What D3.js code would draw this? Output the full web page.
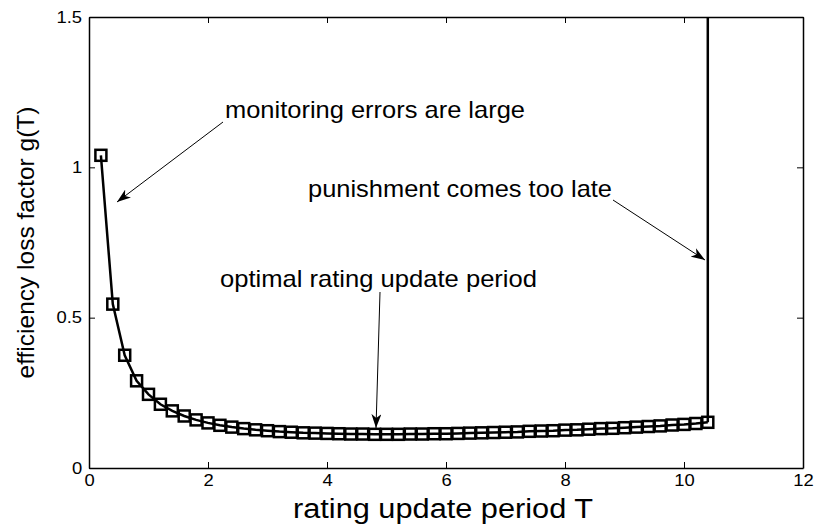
<!DOCTYPE html>
<html>
<head>
<meta charset="utf-8">
<script src="https://cdn.jsdelivr.net/npm/d3@7"></script>
<style>
  body { margin: 0; background: #fff; }
  svg { font-family: Arial, "Liberation Sans", sans-serif; }
</style>
</head>
<body>
<svg id="chart" width="817" height="528"></svg>
<script>
// values
var periods = [0.2,0.4,0.6,0.8,1.0,1.2,1.4,1.6,1.8,2.0,2.2,2.4,2.6,2.8,3.0,3.2,3.4,3.6,3.8,4.0,
  4.2,4.4,4.6,4.8,5.0,5.2,5.4,5.6,5.8,6.0,6.2,6.4,6.6,6.8,7.0,7.2,7.4,7.6,7.8,8.0,
  8.2,8.4,8.6,8.8,9.0,9.2,9.4,9.6,9.8,10.0,10.2,10.4];
var lossFactor = [1.04,0.545,0.375,0.29,0.245,0.212,0.19,0.173,0.16,0.15,0.142,0.136,0.131,0.127,0.124,0.121,0.119,0.117,0.116,0.115,
  0.114,0.113,0.113,0.112,0.112,0.112,0.113,0.113,0.114,0.114,0.115,0.116,0.117,0.118,0.119,0.12,0.122,0.123,0.124,0.126,
  0.127,0.129,0.131,0.132,0.134,0.136,0.138,0.14,0.143,0.145,0.148,0.152];
// the curve blows up right after the last point
var blowUp = [[10.4, 0.152], [10.4, 5]];

var xTicks = [0,2,4,6,8,10,12];
var yTicks = [0,0.5,1,1.5];

// text position (baseline start) and width, arrow tail / head in pixels
var notes = [
  {text: "monitoring errors are large", tx: 225, ty: 118, len: 300, from: [223,122], to: [117,202]},
  {text: "punishment comes too late", tx: 308, ty: 197, len: 304, from: [613,200], to: [705,260]},
  {text: "optimal rating update period", tx: 220, ty: 287, len: 317, from: [380,292], to: [376,428]}
];

var svg = d3.select("#chart");
var margin = {left: 89, right: 14, top: 17, bottom: 60};
var W = 817 - margin.left - margin.right, H = 528 - margin.top - margin.bottom;

var x = d3.scaleLinear().domain([0,12]).range([0,W]);
var y = d3.scaleLinear().domain([0,1.5]).range([H,0]);

var g = svg.append("g").attr("transform", "translate("+margin.left+","+margin.top+")");

svg.append("defs").append("clipPath").attr("id","clip")
  .append("rect").attr("width", W).attr("height", H);

// axes, matlab style: ticks inward on all four sides
function styleAxis(sel) {
  sel.select(".domain").attr("stroke","#000").attr("stroke-width",1.5);
  sel.selectAll(".tick line").attr("stroke","#000");
  sel.selectAll("text").attr("fill","#000").style("font-size","16px")
    .attr("transform","scale(1.15,1)");
}
g.append("g").attr("transform","translate(0,"+H+")")
  .call(d3.axisBottom(x).tickValues(xTicks).tickSize(-6).tickSizeOuter(0).tickPadding(7).tickFormat(d3.format("d")))
  .call(styleAxis);
g.append("g")
  .call(d3.axisTop(x).tickValues(xTicks).tickSize(-6).tickSizeOuter(0).tickFormat(""))
  .call(styleAxis);
g.append("g")
  .call(d3.axisLeft(y).tickValues(yTicks).tickSize(-6).tickSizeOuter(0).tickPadding(6).tickFormat(function(d){ return d; }))
  .call(styleAxis);
g.append("g").attr("transform","translate("+W+",0)")
  .call(d3.axisRight(y).tickValues(yTicks).tickSize(-6).tickSizeOuter(0).tickFormat(""))
  .call(styleAxis);

var pts = periods.map(function(t,i){ return [t, lossFactor[i]]; });
var line = d3.line().x(function(d){ return x(d[0]); }).y(function(d){ return y(d[1]); });

var plot = g.append("g").attr("clip-path","url(#clip)");
plot.append("path").datum(pts).attr("d", line)
  .attr("fill","none").attr("stroke","#000").attr("stroke-width",2.5);
plot.append("path").datum(blowUp).attr("d", line)
  .attr("fill","none").attr("stroke","#000").attr("stroke-width",2.5);

var s = 11;
g.selectAll("rect.mk").data(pts).enter().append("rect")
  .attr("class","mk")
  .attr("x", function(d){ return x(d[0]) - s/2; })
  .attr("y", function(d){ return y(d[1]) - s/2; })
  .attr("width", s).attr("height", s)
  .attr("fill","none").attr("stroke","#000").attr("stroke-width",2.5);

// annotations
svg.append("defs").append("marker").attr("id","head")
  .attr("viewBox","0 0 14 10").attr("refX",14).attr("refY",5)
  .attr("markerWidth",14).attr("markerHeight",10).attr("markerUnits","userSpaceOnUse")
  .attr("orient","auto")
  .append("path").attr("d","M0,0 L14,5 L0,10 L4,5 Z").attr("fill","#000");

notes.forEach(function(n){
  svg.append("text").attr("x", n.tx).attr("y", n.ty).style("font-size","24px")
    .attr("textLength", n.len).attr("lengthAdjust","spacingAndGlyphs").text(n.text);
  svg.append("line").attr("x1", n.from[0]).attr("y1", n.from[1]).attr("x2", n.to[0]).attr("y2", n.to[1])
    .attr("stroke","#000").attr("stroke-width",1).attr("marker-end","url(#head)");
});

// axis titles
svg.append("text").attr("x", 293).attr("y", 518)
  .attr("textLength", 300).attr("lengthAdjust","spacingAndGlyphs")
  .style("font-size","27px").text("rating update period T");
svg.append("text").attr("transform","translate(34,"+(margin.top + H/2)+") rotate(-90)")
  .attr("text-anchor","middle").style("font-size","24.5px").text("efficiency loss factor g(T)");
</script>
</body>
</html>
